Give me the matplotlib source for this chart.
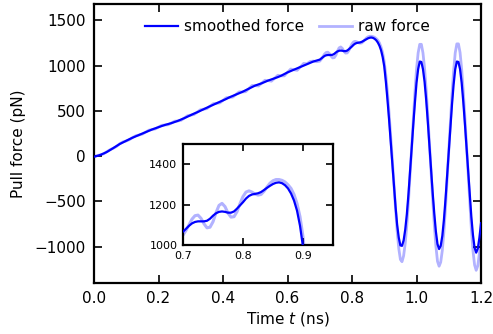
import numpy as np
import matplotlib
matplotlib.use("Agg")
import matplotlib.pyplot as plt

# time samples (ns): coarse part of the pull, then finer for the rupture/oscillation
t_coarse = np.round(np.arange(0.0, 0.695, 0.01), 3)
t_fine = np.round(np.arange(0.70, 1.2001, 0.005), 3)

# smoothed force (pN)
smooth_coarse = [-5, 3, 15, 30, 47, 68, 90, 113, 135, 153,
                 170, 188, 205, 220, 235, 250, 265, 280, 295, 308,
                 320, 333, 345, 355, 365, 377, 390, 405, 420, 437,
                 455, 470, 485, 502, 520, 536, 552, 568, 585, 600,
                 615, 632, 650, 665, 680, 695, 710, 728, 745, 763,
                 780, 792, 805, 820, 835, 847, 860, 873, 888, 907,
                 925, 940, 955, 970, 985, 1000, 1015, 1030, 1045, 1055]
smooth_fine = [1066, 1080, 1095, 1107, 1114, 1117, 1117, 1117, 1120, 1130,
               1145, 1157, 1164, 1166, 1164, 1160, 1160, 1166, 1180, 1196,
               1212, 1230, 1243, 1250, 1253, 1256, 1262, 1272, 1283, 1293,
               1302, 1308, 1310, 1306, 1296, 1280, 1255, 1220, 1170, 1095,
               990, 820, 620, 400, 160, -80, -330, -560, -760, -900,
               -985, -990, -930, -810, -640, -420, -170, 90, 350, 590,
               810, 960, 1045, 1040, 960, 820, 620, 380, 120, -140,
               -400, -630, -830, -970, -1025, -990, -880, -700, -470, -210,
               60, 320, 570, 790, 960, 1045, 1040, 960, 810, 600,
               360, 100, -170, -430, -670, -870, -1010, -1065, -1020, -900,
               -740]

# raw force (pN)
raw_coarse = [-8, 8, 14, 26, 50, 72, 88, 108, 138, 158,
              168, 183, 207, 226, 234, 244, 266, 287, 294, 301,
              321, 341, 344, 347, 366, 386, 389, 396, 421, 447,
              454, 460, 486, 513, 519, 525, 553, 580, 584, 588,
              616, 645, 649, 652, 681, 710, 709, 712, 746, 780,
              779, 775, 806, 838, 834, 828, 861, 893, 887, 887,
              926, 962, 954, 948, 986, 1024, 1020, 1045, 1050, 1043]
raw_fine = [1049, 1072, 1100, 1128, 1145, 1148, 1132, 1105, 1085, 1088,
            1115, 1160, 1196, 1206, 1190, 1158, 1138, 1140, 1165, 1205,
            1240, 1262, 1268, 1262, 1252, 1247, 1250, 1266, 1287, 1306,
            1318, 1324, 1324, 1320, 1312, 1298, 1280, 1250, 1205, 1140,
            1040, 890, 700, 470, 220, -40, -310, -580, -830, -1020,
            -1140, -1165, -1100, -960, -760, -500, -210, 100, 410, 700,
            960, 1140, 1235, 1235, 1140, 970, 730, 450, 140, -170,
            -470, -750, -990, -1160, -1215, -1170, -1040, -830, -560, -250,
            70, 380, 680, 940, 1140, 1240, 1240, 1145, 960, 715,
            430, 120, -200, -510, -800, -1040, -1200, -1260, -1210, -1070,
            -880]

t = np.concatenate([t_coarse, t_fine])
f_smooth = np.array(smooth_coarse + smooth_fine)
f_raw = np.array(raw_coarse + raw_fine)

plt.rcParams['font.family'] = 'DejaVu Sans'
fig = plt.figure(figsize=(4.93, 3.34), dpi=100)
ax = fig.add_axes([0.1907, 0.1527, 0.785, 0.8353])

ax.plot(t, f_smooth, color='#0000ff', lw=1.6, label='smoothed force', zorder=3)
ax.plot(t, f_raw, color='#0000ff', lw=2.0, alpha=0.3, label='raw force', zorder=2)

ax.set_xlim(0, 1.2)
ax.set_ylim(-1400, 1680)
ax.set_xticks([0.0, 0.2, 0.4, 0.6, 0.8, 1.0, 1.2])
ax.set_yticks([-1000, -500, 0, 500, 1000, 1500])
ax.tick_params(direction='in', top=True, right=True, length=6, width=1.2,
               labelsize=11, pad=6)
for s in ax.spines.values():
    s.set_linewidth(1.6)
ax.set_xlabel('Time $t$ (ns)', fontsize=11, labelpad=3)
ax.set_ylabel('Pull force (pN)', fontsize=11, labelpad=6)
ax.legend(loc='upper center', ncol=2, frameon=False, fontsize=11,
          bbox_to_anchor=(0.5, 1.0), handlelength=2.15, columnspacing=1.0,
          handletextpad=0.4, borderaxespad=0.6)

# inset zoom on the rupture peak
axin = fig.add_axes([0.3712, 0.2665, 0.3043, 0.3024])
axin.plot(t, f_smooth, color='#0000ff', lw=1.6, zorder=3)
axin.plot(t, f_raw, color='#0000ff', lw=2.2, alpha=0.3, zorder=2)
axin.set_xlim(0.7, 0.95)
axin.set_ylim(1000, 1500)
axin.set_xticks([0.7, 0.8, 0.9])
axin.set_yticks([1000, 1200, 1400])
axin.tick_params(direction='in', top=True, right=True, length=5, width=1.2,
                 labelsize=8, pad=4)
for s in axin.spines.values():
    s.set_linewidth(1.6)

fig.savefig('out.png', dpi=100)
